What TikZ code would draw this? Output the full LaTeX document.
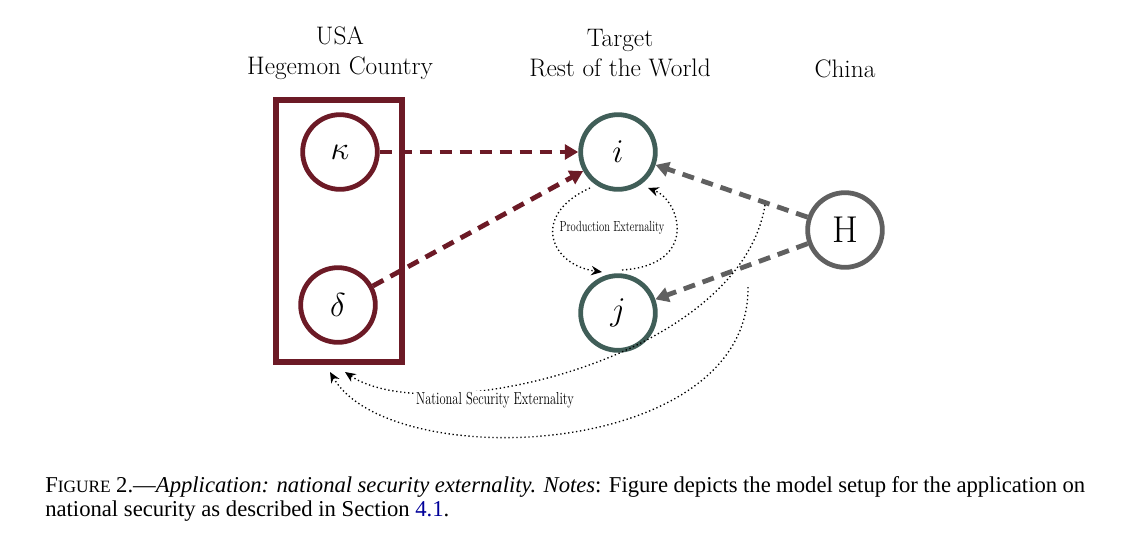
\documentclass[tikz,border=0pt]{standalone}
\usepackage{amsmath,amssymb}
\usepackage{fontspec}
\newfontfamily\capfont{Liberation Serif}
\usepackage{tikz}
\usetikzlibrary{arrows.meta}
\definecolor{hegred}{RGB}{108,26,38}
\definecolor{rowteal}{RGB}{64,94,88}
\definecolor{chgrey}{RGB}{96,96,96}
\hyphenation{appli-ca-tion}
\tikzset{
  agent/.style={circle,draw,line width=3.6pt,minimum size=56pt,inner sep=0pt,font=\fontsize{34}{34}\selectfont},
  link/.style={line width=3.6pt,dash pattern=on 9pt off 6pt,-{Triangle[length=10pt,width=11pt]}},
  extern/.style={dotted,line width=1pt,-{Stealth[length=8pt,width=7pt]}},
  lbl/.style={font=\fontsize{19}{23}\selectfont,align=center}
}
\begin{document}
\begin{tikzpicture}[x=0.75pt,y=0.75pt,yscale=-1,xscale=1]
\useasboundingbox (0,0) rectangle (1128,547);
\draw [hegred,line width=3.8pt] (276,100) rectangle (402,362);
\node [agent,draw=hegred] (kappa) at (340,152) {$\kappa$};
\node [agent,draw=hegred] (delta) at (338,305) {$\delta$};
\node [agent,draw=rowteal] (i) at (618,152) {$i$};
\node [agent,draw=rowteal] (j) at (618,313) {$j$};
\node [agent,draw=chgrey,font=\fontsize{28}{28}\selectfont] (H) at (845,230) {H};
\node [lbl] (usa) at (340,53) {USA\\Hegemon Country};
\node [lbl] (row) at (620,53) {Target\\Rest of the World};
\node [lbl] (china) at (845,69) {China};
\draw [link,hegred] (kappa) -- (i);
\draw [link,hegred] (delta) -- (i);
\draw [link,chgrey] (H) -- (i);
\draw [link,chgrey] (H) -- (j);
% production externality loop
\coordinate (pa) at (590,188);
\coordinate (pb) at (602,272);
\coordinate (pc) at (622,270);
\coordinate (pd) at (648,188);
\draw [extern] (pa) .. controls (530,215) and (550,265) .. (pb);
\draw [extern] (pc) .. controls (700,265) and (680,200) .. (pd);
\node [font=\fontsize{11}{12}\selectfont,xscale=0.72] (prod) at (612,228) {Production Externality};
% national security externality
\coordinate (na) at (765,205);
\coordinate (nb) at (748,287);
\coordinate (nc) at (345,372);
\coordinate (nd) at (330,372);
\draw [extern] (na) .. controls (740,360) and (430,430) .. (nc);
\draw [extern] (nb) .. controls (750,460) and (390,475) .. (nd);
\node [font=\fontsize{13}{14}\selectfont,xscale=0.72,fill=white,inner sep=1pt] (nat) at (495,400) {National Security Externality};
\node [anchor=north west,text width=780pt,align=justify,inner sep=0pt,font=\capfont\fontsize{17}{18}\selectfont] (cap) at (45,476)
{F{\fontsize{13}{14}\selectfont IGURE} 2.—\textit{Application: national security externality. Notes}: Figure depicts the model setup for the application on national security as described in Section \textcolor{blue!60!black}{4.1}.};
\end{tikzpicture}
\end{document}
